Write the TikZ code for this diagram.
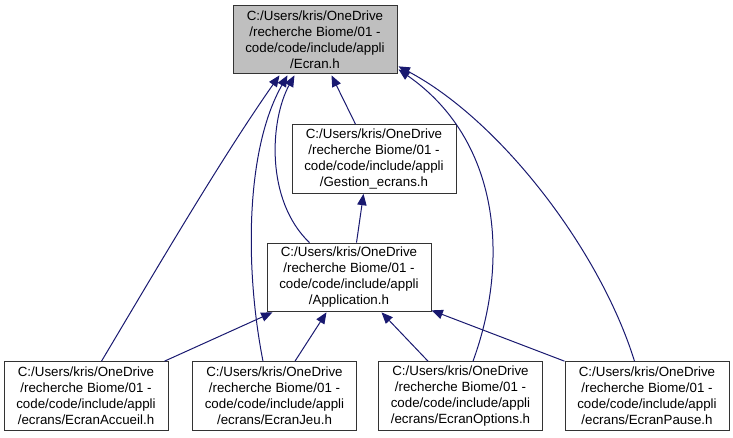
\documentclass[tikz,border=0pt]{standalone}
\usepackage{fontspec}
\setmainfont{Liberation Sans}
\usetikzlibrary{arrows.meta,calc}
\definecolor{bleuarete}{HTML}{191970}
\definecolor{grisracine}{HTML}{BFBFBF}

\begin{document}
\begin{tikzpicture}[x=0.75pt, y=-0.75pt,
	fichier/.style={draw=black!80, line width=0.75pt, fill=white, align=center, inner sep=0pt,
		minimum width=123pt, minimum height=51.5pt, font=\fontsize{10}{12}\selectfont},
	racine/.style={fichier, fill=grisracine},
	inclut/.style={draw=bleuarete, line width=0.75pt, -{Triangle[length=8.5pt,width=7pt]}}]
			\useasboundingbox (0,0) rectangle (733,437);
			%Noeuds du graphe
			\node[racine] (Ecran) at (315,39.5) {C:/Users/kris/OneDrive\\/recherche Biome/01 -\\code/code/include/appli\\/Ecran.h};
			\node[fichier] (Gestion) at (374,159) {C:/Users/kris/OneDrive\\/recherche Biome/01 -\\code/code/include/appli\\/Gestion\_ecrans.h};
			\node[fichier] (Application) at (349,277.5) {C:/Users/kris/OneDrive\\/recherche Biome/01 -\\code/code/include/appli\\/Application.h};
			\node[fichier] (Accueil) at (86,396) {C:/Users/kris/OneDrive\\/recherche Biome/01 -\\code/code/include/appli\\/ecrans/EcranAccueil.h};
			\node[fichier] (Jeu) at (274.5,396) {C:/Users/kris/OneDrive\\/recherche Biome/01 -\\code/code/include/appli\\/ecrans/EcranJeu.h};
			\node[fichier] (Options) at (460.5,396) {C:/Users/kris/OneDrive\\/recherche Biome/01 -\\code/code/include/appli\\/ecrans/EcranOptions.h};
			\node[fichier] (Pause) at (647,396) {C:/Users/kris/OneDrive\\/recherche Biome/01 -\\code/code/include/appli\\/ecrans/EcranPause.h};
			%Inclusions vers Ecran.h
			\draw[inclut] ($(Gestion.north west)+(64,0)$) -- ($(Ecran.south west)+(99,1)$);
			\draw[inclut] ($(Accueil.north west)+(98,0)$) .. controls (150,280) and (220,160) .. ($(Ecran.south west)+(47,1)$);
			\draw[inclut] ($(Jeu.north west)+(71,0)$) .. controls (245,270) and (245,150) .. ($(Ecran.south west)+(55,1)$);
			\draw[inclut] ($(Application.north west)+(43,0)$) .. controls (265,200) and (270,120) .. ($(Ecran.south west)+(62,1)$);
			\draw[inclut] ($(Options.north west)+(95,0)$) .. controls (510,260) and (500,140) .. ($(Ecran.south east)+(1,-5)$);
			\draw[inclut] ($(Pause.north west)+(70,0)$) .. controls (600,250) and (500,120) .. ($(Ecran.south east)+(1,-8)$);
			
			%Inclusions vers Gestion_ecrans.h et Application.h
			\draw[inclut] ($(Application.north west)+(90,0)$) -- ($(Gestion.south west)+(72,0)$);
			\draw[inclut] ($(Accueil.north east)+(-4,0)$) -- ($(Application.south west)+(6,0)$);
			\draw[inclut] ($(Jeu.north west)+(103,0)$) -- ($(Application.south west)+(60,0)$);
			\draw[inclut] ($(Options.north west)+(50,0)$) -- ($(Application.south west)+(115,0)$);
			\draw[inclut] (Pause.north west) -- ($(Application.south east)+(0,-2)$);
		\end{tikzpicture}
\end{document}
